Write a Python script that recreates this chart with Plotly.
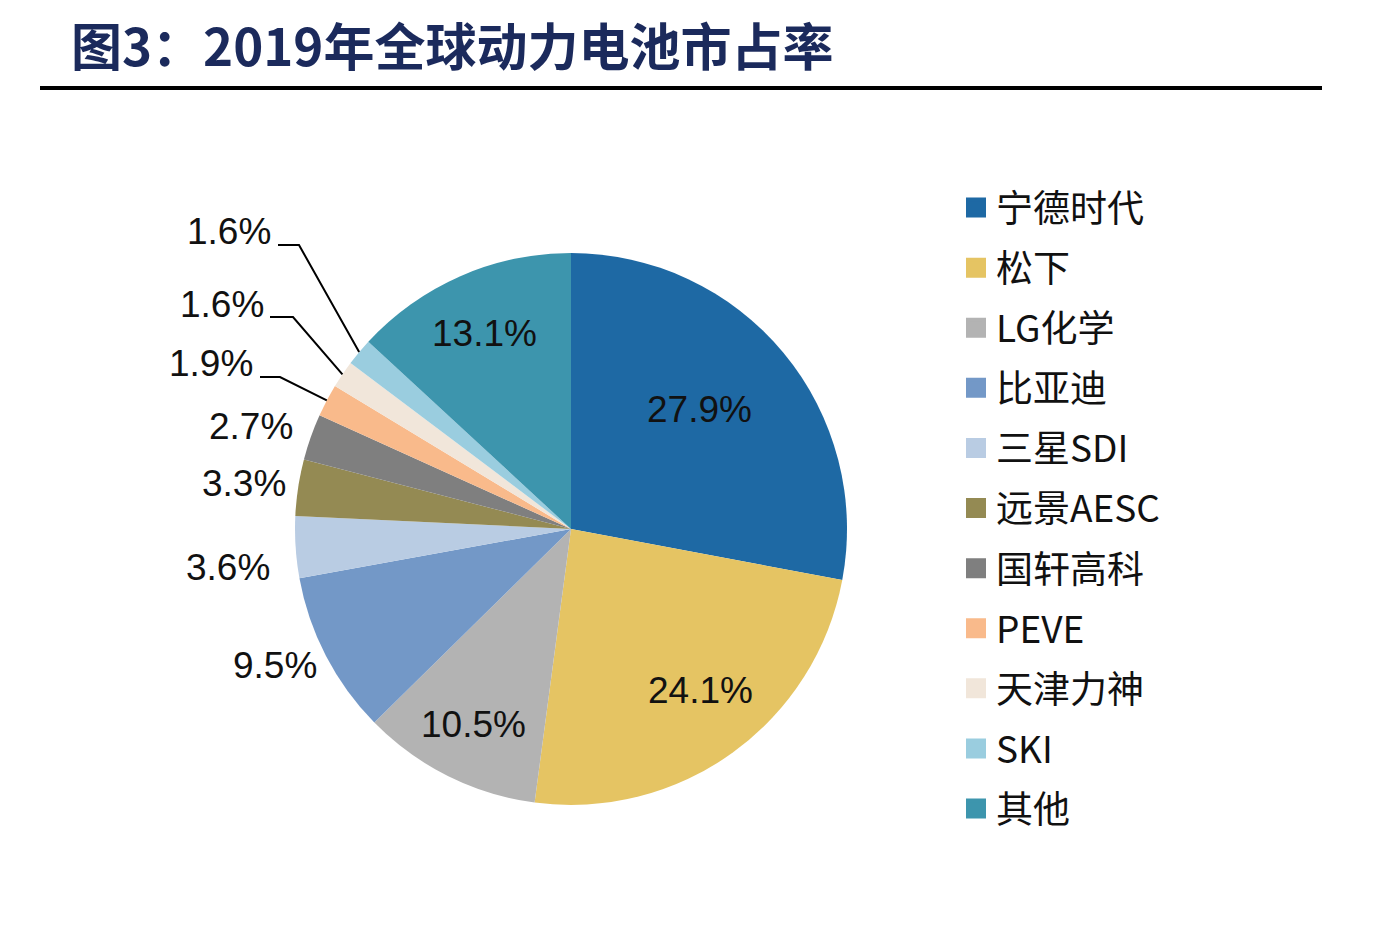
import math
import plotly.graph_objects as go

companies = ["宁德时代", "松下", "LG化学", "比亚迪", "三星SDI", "远景AESC",
             "国轩高科", "PEVE", "天津力神", "SKI", "其他"]
shares = [27.9, 24.1, 10.5, 9.5, 3.6, 3.3, 2.7, 1.9, 1.6, 1.6, 13.1]
colors = ["#1E69A4", "#E5C463", "#B3B3B3", "#7398C7", "#B9CCE3", "#948A53",
          "#7F7F7F", "#F9BA8B", "#F1E6DA", "#9ACDDF", "#3D95AD"]
title_text = "图3：2019年全球动力电池市占率"

# ---------------- layout (pixel positions in the 1374x932 view) ----------
W, H = 1374, 932
OFF = 8  # page body margin
CX, CY, R = 571, 529, 276  # pie centre / radius on screen

# label positions (text centre) for each slice, in screen pixels
label_pos = [(699, 410), (700, 690), (474, 724), (275, 665), (228, 567),
             (244, 483), (251, 427), (211, 364), (222, 304), (229, 231),
             (485, 333)]
# leader-line horizontal start/end x and y for slices labelled with a line
leader = {7: (260, 280, 377), 8: (270, 293, 317), 9: (278, 299, 245)}


def px(x):
    return (x - OFF) / W


def py(y):
    return 1 - (y - OFF) / H


num_font = "Liberation Sans, Arial"

fig = go.Figure()
fig.add_trace(go.Pie(
    labels=companies,
    values=shares,
    textinfo="none",
    sort=False,
    direction="clockwise",
    rotation=0,
    marker=dict(colors=colors, line=dict(width=0)),
    showlegend=False,
    domain=dict(x=[px(CX - R), px(CX + R)], y=[py(CY + R), py(CY - R)]),
    hoverinfo="label+percent",
))

# legend entries (one group per company so spacing can be controlled)
for name, col in zip(companies, colors):
    fig.add_trace(go.Scatter(
        x=[None], y=[None], mode="markers", name=name,
        legendgroup=name,
        marker=dict(symbol="square", size=16, color=col,
                    line=dict(color=col, width=4)),
        hoverinfo="skip",
    ))

# value labels
total = sum(shares)
cum = 0.0
for i, v in enumerate(shares):
    mid = (cum + v / 2) / total * 2 * math.pi
    cum += v
    lx, ly = label_pos[i]
    fig.add_annotation(
        text=f"{v:.1f}%", xref="paper", yref="paper",
        x=px(lx), y=py(ly), xanchor="center", yanchor="middle",
        showarrow=False,
        font=dict(family=num_font, size=37, color="#111111"),
    )
    if i in leader:
        x0, x1, yl = leader[i]
        ex = CX + R * math.sin(mid)
        ey = CY - R * math.cos(mid)
        fig.add_shape(
            type="path", xref="paper", yref="paper",
            path=f"M {px(x0)} {py(yl)} L {px(x1)} {py(yl)} L {px(ex)} {py(ey)}",
            line=dict(color="#000000", width=2),
        )

fig.add_shape(type="line", xref="paper", yref="paper",
              x0=px(40), x1=px(1322), y0=py(88), y1=py(88),
              line=dict(color="#000000", width=4))

fig.add_annotation(
    text=f"<b>{title_text}</b>", xref="paper", yref="paper",
    x=px(69), y=py(44), xanchor="left", yanchor="middle",
    showarrow=False,
    font=dict(family="Noto Sans CJK SC", size=51, color="#1B2A5C"),
)

fig.update_layout(
    width=W, height=H,
    margin=dict(l=0, r=0, t=0, b=0),
    paper_bgcolor="#FFFFFF", plot_bgcolor="#FFFFFF",
    xaxis=dict(visible=False), yaxis=dict(visible=False),
    legend=dict(
        x=px(956), y=py(177), xanchor="left", yanchor="top",
        font=dict(family="Noto Sans CJK SC", size=37, color="#111111"),
        tracegroupgap=9, itemwidth=30,
        bgcolor="rgba(0,0,0,0)",
    ),
)

fig.write_html("out.html")
